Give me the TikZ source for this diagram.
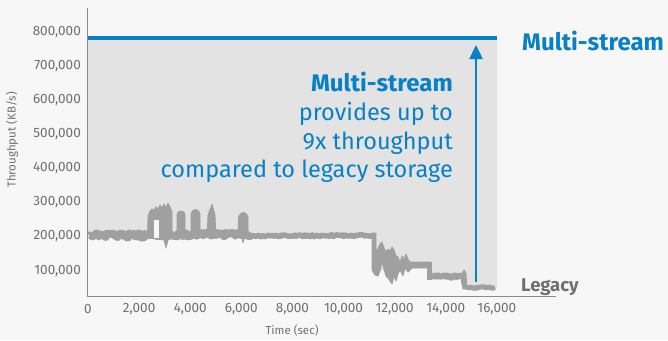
\documentclass[tikz,border=0pt]{standalone}
\usepackage{fontspec}
\setmainfont{Fira Sans}
\usetikzlibrary{arrows.meta,decorations.pathmorphing}
\definecolor{bg}{HTML}{F7F7F7}
\definecolor{plotfill}{HTML}{E3E3E3}
\definecolor{msblue}{HTML}{0780C6}
\definecolor{leggray}{HTML}{A0A0A0}
\definecolor{txtgray}{HTML}{707070}
\definecolor{axisgray}{HTML}{8C8C8C}
\tikzset{
  ticklbl/.style={text=txtgray,font=\fontsize{13.5}{14}\selectfont,inner sep=0pt},
  axislbl/.style={text=txtgray,font=\fontsize{11.5}{12}\selectfont,inner sep=0pt},
  bluetxt/.style={text=msblue,inner sep=0pt,anchor=base east},
  legline/.style={draw=leggray,line join=round},
  blob/.style={fill=leggray,draw=leggray,line width=0.8pt,line join=round}
}
\begin{document}
\begin{tikzpicture}[x=1pt,y=-1pt]
\pgfmathsetseed{7}
\fill[bg] (0,0) rectangle (668,340);
\useasboundingbox (0,0) rectangle (668,340);
% gray plot area
\fill[plotfill] (88,38) rectangle (497,296);
% area below legacy curve
\fill[bg] (88,236) -- (148,236) -- (250,236) -- (372,236) -- (374,272) -- (428,265) -- (430,277) -- (466,277) -- (467,288) -- (497,288) -- (497,296) -- (88,296) -- cycle;
% legacy curve: flat noisy parts
\draw[legline,line width=7.5pt,decorate,decoration={random steps,segment length=1.5pt,amplitude=2.4pt}]
  (89,235.5) -- (148,235.5);
\draw[legline,line width=8pt,decorate,decoration={random steps,segment length=1.5pt,amplitude=1.8pt}]
  (148,234.5) -- (250,234.5);
\draw[legline,line width=5.5pt,decorate,decoration={random steps,segment length=1.5pt,amplitude=0.9pt}]
  (250,236) -- (373,235.5);
% spikes
\fill[blob] (147.5,238) -- (148,216) -- (150,211) -- (152,209) -- (154,210) -- (156,207) -- (158,209) -- (160,205) -- (162,208) -- (164,204) -- (166,208) -- (168,203) -- (170,207) -- (172,212) -- (172,238) -- (168,240) -- (166,248) -- (164,240) -- cycle;
\fill[bg] (153.5,220) rectangle (158.5,238);
\fill[blob] (177,237) -- (177,214) .. controls (178,210) and (184,210) .. (185,214) -- (185,237) -- cycle;
\fill[blob] (191,237) -- (191,214) .. controls (192,208) and (199,208) .. (200,214) -- (200,237) -- cycle;
\fill[blob] (207,237) -- (208,215) -- (212,204) -- (215,215) -- (216,237) -- cycle;
\fill[blob] (238,237) -- (238.5,217) .. controls (240,211) and (247,211) .. (248,217) -- (248,237) -- (244,239) -- (243,243) -- (242,238) -- cycle;
% noisy drop region
\fill[blob] (372,233) -- (376,233) -- (376,250) -- (378,249) -- (380,244) -- (382,242) -- (384,248) -- (386,252) -- (388,249) -- (390,251) -- (392,247) -- (394,250) -- (396,256) -- (398,257) -- (400,262) -- (402,256) -- (404,259) -- (406,254) -- (408,259) -- (410,262) -- (431,262)
  -- (431,268) -- (420,268) -- (412,268) -- (408,272) -- (405,268) -- (403,276) -- (400,270) -- (398,274) -- (396,281) -- (394,276) -- (392,284) -- (390,281) -- (388,278) -- (386,276) -- (384,269) -- (382,262) -- (380,271) -- (378,276) -- (375,275) -- (372,270) -- cycle;
\fill[blob] (427,262) rectangle (431,279);
\draw[legline,line width=6pt,decorate,decoration={random steps,segment length=1.5pt,amplitude=1.4pt}]
  (430,276.5) -- (463,276.5);
\fill[blob] (461,279) -- (462,274) -- (464,270) -- (466,273) -- (467,289) -- (463,289) -- cycle;
\draw[legline,line width=5pt,decorate,decoration={random steps,segment length=1.5pt,amplitude=0.9pt}]
  (466,287.5) -- (495,287.5);
% blue multi-stream line
\draw[msblue,line width=4.5pt] (88,38) -- (497,38);
% axes
\coordinate (yt) at (87.5,8);
\coordinate (org) at (87.5,296.5);
\coordinate (xe) at (556,296.5);
\draw[axisgray,line width=1.3pt] (yt) -- (org) -- (xe);
% y tick labels
\foreach \v/\y in {800/32,700/66,600/100.5,500/134.5,400/168.5,300/202.5,200/236.5,100/271}
  \node[ticklbl,anchor=east] (yl\v) at (81,\y) {\v,000};
% x tick labels
\foreach \i/\t in {0/0,1/{2,000},2/{4,000},3/{6,000},4/{8,000},5/{10,000},6/{12,000},7/{14,000},8/{16,000}}
  \node[ticklbl] (xl\i) at ({88+51.1*\i},309) {\t};
\node[axislbl] (xtitle) at (292,330) {Time (sec)};
\node[axislbl,rotate=90] (ytitle) at (12,140) {Throughput (KB/s)};
% arrow
\coordinate (abot) at (476,282);
\coordinate (atop) at (476,45);
\draw[msblue,line width=2.4pt,-{Triangle[width=13pt,length=14pt]}] (abot) -- (atop);
% texts
\node[bluetxt,font=\fontsize{24}{26}\selectfont\bfseries] (ms1) at (453,91) {Multi-stream};
\node[bluetxt,font=\fontsize{23.5}{26}\selectfont] (l2) at (453,120) {provides up to};
\node[bluetxt,font=\fontsize{23.5}{26}\selectfont] (l3) at (453,149) {9x throughput};
\node[bluetxt,font=\fontsize{23.5}{26}\selectfont] (l4) at (453,177.5) {compared to legacy storage};
\node[text=msblue,inner sep=0pt,anchor=base west,font=\fontsize{24}{26}\selectfont\bfseries] (ms2) at (522,50) {Multi-stream};
\node[text=txtgray,inner sep=0pt,anchor=base west,font=\fontsize{18.5}{20}\selectfont\bfseries] (leg) at (521,291) {Legacy};
\end{tikzpicture}
\end{document}
